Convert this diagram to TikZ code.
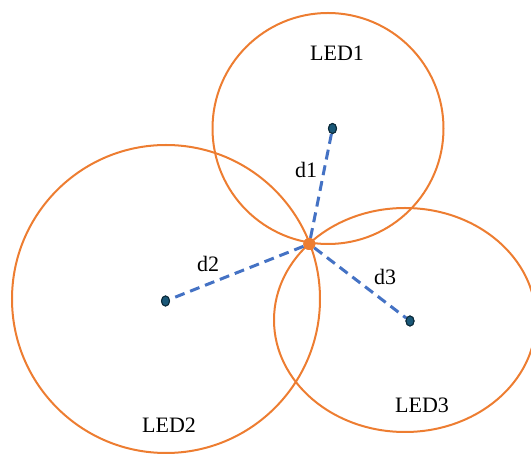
\documentclass[tikz,border=0pt]{standalone}
\usepackage{fontspec}
\setmainfont{Liberation Serif}
\usetikzlibrary{shapes.geometric}
\definecolor{ledorange}{HTML}{ED7D31}
\definecolor{dashblue}{HTML}{4472C4}
\definecolor{dotfill}{HTML}{1A5878}
\definecolor{dotline}{HTML}{0B2A3A}
\begin{document}
\begin{tikzpicture}[x=1pt,y=-1pt,
  rangecirc/.style={draw=ledorange,line width=2pt},
  distline/.style={draw=dashblue,line width=3pt,dash pattern=on 10pt off 6pt},
  leddot/.style={ellipse,draw=dotline,fill=dotfill,line width=1pt,minimum width=8pt,minimum height=10pt,inner sep=0pt},
  targetdot/.style={circle,fill=ledorange,minimum size=12pt,inner sep=0pt},
  lbl/.style={font=\fontsize{22}{24}\selectfont,inner sep=0pt}]
\useasboundingbox (0,0) rectangle (531,454);
\draw[rangecirc] (328,128.5) circle (115.5);
\draw[rangecirc] (166,299) circle (154);
\draw[rangecirc] (405,320) ellipse (131 and 112);
\node[leddot] (l1) at (332.5,128.5) {};
\node[leddot] (l2) at (165.5,301) {};
\node[leddot] (l3) at (410,321) {};
\node[targetdot] (p) at (309.3,244) {};
\draw[distline] (p) -- (l1);
\draw[distline] (p) -- (l2);
\draw[distline] (p) -- (l3);
\node[leddot] at (l1) {};
\node[leddot] at (l2) {};
\node[leddot] at (l3) {};
\node[targetdot] at (p) {};
\node[lbl] (t1) at (337,53) {LED1};
\node[lbl] (t2) at (169,425) {LED2};
\node[lbl] (t3) at (422,405) {LED3};
\node[lbl] (d1) at (306,170) {d1};
\node[lbl] (d2) at (208,264) {d2};
\node[lbl] (d3) at (385,277) {d3};
\end{tikzpicture}
\end{document}
